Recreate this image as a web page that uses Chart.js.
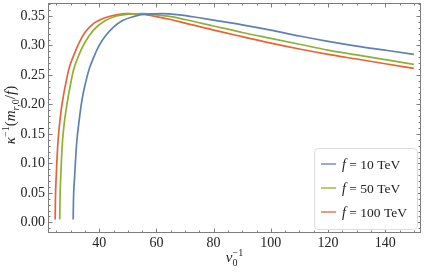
<!DOCTYPE html>
<html>
<head>
<meta charset="utf-8">
<script src="https://cdn.jsdelivr.net/npm/chart.js@4"></script>
<style>
  html, body { margin: 0; padding: 0; background: #fff; }
  canvas { display: block; }
</style>
</head>
<body>
<canvas id="chart" width="425" height="273" style="width:425px;height:273px"></canvas>
<script>
// values (x = v0^-1, y = kappa^-1)
const labels = ['10', '50', '100']
const colors = ['#5e81b5', '#8fb032', '#eb6235']

const xs10 = [30.9, 31.0, 31.4, 32.1, 33.0, 34, 35, 36.5, 38, 40, 42.5, 45, 48, 52, 56, 62, 68, 75, 80, 90, 100, 110, 120, 130, 140, 150]
const ys10 = [0.005, 0.036, 0.077, 0.133, 0.173, 0.208, 0.232, 0.26, 0.279, 0.3, 0.318, 0.331, 0.342, 0.349, 0.353, 0.354, 0.352, 0.347, 0.343, 0.335, 0.326, 0.316, 0.307, 0.299, 0.292, 0.285]

const xs50 = [26.2, 26.3, 26.55, 27.1, 27.7, 28.4, 29.5, 31, 33, 35, 38, 42, 46, 50, 55, 60, 65, 70, 80, 90, 100, 110, 120, 130, 140, 150]
const ys50 = [0.005, 0.04, 0.077, 0.133, 0.165, 0.19, 0.222, 0.258, 0.285, 0.305, 0.326, 0.342, 0.35, 0.353, 0.354, 0.352, 0.349, 0.344, 0.333, 0.322, 0.312, 0.302, 0.292, 0.284, 0.276, 0.268]

const xs100 = [24.6, 24.7, 25.0, 25.5, 26.0, 26.7, 27.5, 28.5, 29.5, 31, 33, 35, 38, 42, 46, 50, 55, 60, 65, 70, 80, 90, 100, 110, 120, 130, 140, 150]
const ys100 = [0.005, 0.04, 0.08, 0.13, 0.16, 0.19, 0.215, 0.24, 0.262, 0.282, 0.305, 0.322, 0.337, 0.347, 0.352, 0.354, 0.353, 0.349, 0.344, 0.338, 0.326, 0.315, 0.304, 0.294, 0.285, 0.277, 0.269, 0.261]

const xTicks = [40, 60, 80, 100, 120, 140]
const yTicks = [0, 0.05, 0.1, 0.15, 0.2, 0.25, 0.3, 0.35]

const serif = '"Liberation Serif", "DejaVu Serif", serif'
const frameColor = '#7d7d7d'
const textColor = '#222'

const pts = (xs, ys) => xs.map((x, i) => ({ x, y: ys[i] }))

// draw text pieces left to right; stack=true puts a piece at the previous piece's x
function drawRich(ctx, parts, x, y) {
  let cx = x, lastX = x
  for (const p of parts) {
    ctx.font = p.font
    const px = p.stack ? lastX : cx
    ctx.fillText(p.t, px, y + (p.dy || 0))
    const w = ctx.measureText(p.t).width
    if (!p.stack) lastX = cx
    cx = Math.max(cx, px + w)
  }
  return cx - x
}
function richWidth(ctx, parts) {
  let cx = 0, lastX = 0
  for (const p of parts) {
    ctx.font = p.font
    const px = p.stack ? lastX : cx
    const w = ctx.measureText(p.t).width
    if (!p.stack) lastX = cx
    cx = Math.max(cx, px + w)
  }
  return cx
}

const framePlugin = {
  id: 'frame',
  afterDraw(chart) {
    const { ctx, chartArea: a, scales } = chart
    const sx = scales.x, sy = scales.y
    ctx.save()
    ctx.strokeStyle = frameColor
    ctx.lineWidth = 1
    ctx.strokeRect(a.left + 0.5, a.top + 0.5, a.right - a.left - 1, a.bottom - a.top - 1)

    ctx.beginPath()
    // x ticks, major every 20, minor every 5
    for (let v = 25; v <= 150; v += 5) {
      const px = Math.round(sx.getPixelForValue(v)) + 0.5
      const len = v % 20 === 0 ? 4.5 : 2.5
      ctx.moveTo(px, a.bottom); ctx.lineTo(px, a.bottom - len)
      ctx.moveTo(px, a.top); ctx.lineTo(px, a.top + len)
    }
    // y ticks, major every 0.05, minor every 0.01
    for (let i = -1; i <= 37; i++) {
      const py = Math.round(sy.getPixelForValue(i / 100)) + 0.5
      if (py < a.top || py > a.bottom) continue
      const len = i % 5 === 0 ? 4.5 : 2.5
      ctx.moveTo(a.left, py); ctx.lineTo(a.left + len, py)
      ctx.moveTo(a.right, py); ctx.lineTo(a.right - len, py)
    }
    ctx.stroke()

    ctx.fillStyle = textColor
    ctx.textBaseline = 'alphabetic'
    ctx.textAlign = 'left'

    // x title: v_0^{-1}
    const xt = [
      { t: 'v', font: `italic 15px ${serif}` },
      { t: '−1', font: `10px ${serif}`, dy: -6 },
      { t: '0', font: `10px ${serif}`, dy: 4, stack: true }
    ]
    drawRich(ctx, xt, (a.left + a.right) / 2 - richWidth(ctx, xt) / 2, 262)

    // y title: kappa^{-1}(m_{r,0}/f)
    const yt = [
      { t: 'κ', font: `italic 15px ${serif}` },
      { t: '−1', font: `10px ${serif}`, dy: -6 },
      { t: '(', font: `15px ${serif}` },
      { t: 'm', font: `italic 15px ${serif}` },
      { t: 'r', font: `italic 10px ${serif}`, dy: 4 },
      { t: ',0', font: `10px ${serif}`, dy: 4 },
      { t: '/', font: `15px ${serif}` },
      { t: 'f', font: `italic 15px ${serif}` },
      { t: ')', font: `15px ${serif}` }
    ]
    const yw = richWidth(ctx, yt)
    ctx.save()
    ctx.translate(15, (a.top + a.bottom) / 2 - 3)
    ctx.rotate(-Math.PI / 2)
    drawRich(ctx, yt, -yw / 2, 0)
    ctx.restore()

    // legend
    const lx = 314.5, ly = 148.5, lw = 103, lh = 81
    ctx.beginPath()
    ctx.roundRect(lx, ly, lw, lh, 4)
    ctx.fillStyle = '#fff'
    ctx.fill()
    ctx.strokeStyle = '#dcdcdc'
    ctx.stroke()
    chart.data.datasets.forEach((ds, i) => {
      const cy = 164 + i * 24
      ctx.globalAlpha = 0.65
      ctx.strokeStyle = ds.borderColor
      ctx.lineWidth = 2
      ctx.beginPath()
      ctx.moveTo(321, cy); ctx.lineTo(336, cy)
      ctx.stroke()
      ctx.globalAlpha = 1
      ctx.fillStyle = textColor
      drawRich(ctx, [
        { t: 'f', font: `italic 14px ${serif}` },
        { t: ' = ' + labels[i] + ' TeV', font: `13.5px ${serif}` }
      ], 342, cy + 4.5)
    })
    ctx.restore()
  }
}

new Chart(document.getElementById('chart'), {
  type: 'line',
  data: {
    datasets: [
      { label: labels[0], data: pts(xs10, ys10), borderColor: colors[0] },
      { label: labels[1], data: pts(xs50, ys50), borderColor: colors[1] },
      { label: labels[2], data: pts(xs100, ys100), borderColor: colors[2] }
    ].map(d => ({ ...d, borderWidth: 1.7, pointRadius: 0, fill: false, cubicInterpolationMode: 'monotone' }))
  },
  options: {
    responsive: false,
    animation: false,
    devicePixelRatio: 1,
    layout: { padding: { top: 3, right: 4, left: 0, bottom: 0 } },
    plugins: { legend: { display: false }, tooltip: { enabled: false } },
    scales: {
      x: {
        type: 'linear',
        min: 22.1,
        max: 152.5,
        grid: { display: false, drawTicks: false },
        border: { display: false },
        afterBuildTicks: s => { s.ticks = xTicks.map(value => ({ value })) },
        afterFit: s => { s.height = 40; s.paddingLeft = 0; s.paddingRight = 0 },
        ticks: { color: textColor, font: { family: serif, size: 14 }, padding: 2, maxRotation: 0, autoSkip: false }
      },
      y: {
        min: -0.018,
        max: 0.372,
        grid: { display: false, drawTicks: false },
        border: { display: false },
        afterBuildTicks: s => { s.ticks = yTicks.map(value => ({ value })) },
        afterFit: s => { s.width = 48; s.paddingTop = 0; s.paddingBottom = 0 },
        ticks: { color: textColor, font: { family: serif, size: 14 }, padding: 3, callback: v => v.toFixed(2), autoSkip: false }
      }
    }
  },
  plugins: [framePlugin]
})
</script>
</body>
</html>
